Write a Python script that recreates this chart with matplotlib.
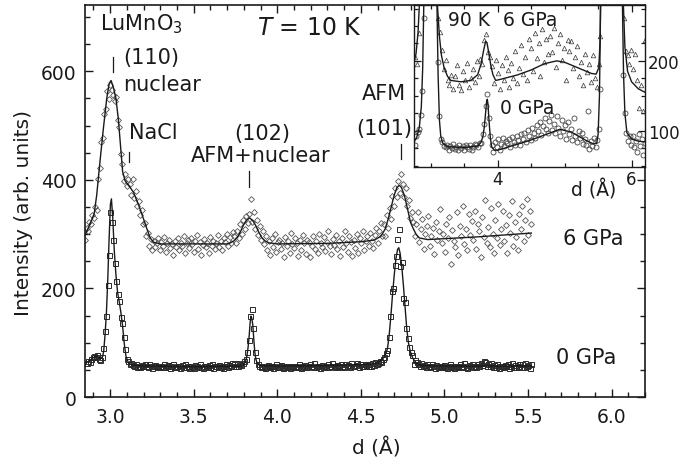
import numpy as np
import matplotlib
matplotlib.use("Agg")
import matplotlib.pyplot as plt
from matplotlib.ticker import MultipleLocator, FormatStrFormatter

plt.rcParams["font.family"] = ["DejaVu Sans"]
plt.rcParams["mathtext.fontset"] = "dejavusans"

# ---------------- main panel, T = 10 K ----------------
# 0 GPa intensities on an even d grid (2.86 - 5.52 A)
I_0gpa = [
    62, 66, 64, 70, 74, 76, 73, 77, 70, 69,
    74, 90, 121, 150, 206, 262, 340, 322, 290, 246,
    214, 189, 176, 148, 137, 110, 88, 70, 66, 61,
    62, 59, 57, 60, 56, 58, 55, 59, 57, 61,
    57, 55, 60, 58, 54, 57, 59, 56, 58, 55,
    58, 56, 60, 55, 57, 59, 54, 58, 61, 56,
    55, 58, 57, 53, 59, 56, 60, 55, 57, 54,
    58, 56, 54, 59, 57, 55, 60, 56, 53, 58,
    57, 55, 59, 56, 61, 54, 57, 58, 55, 59,
    56, 58, 54, 57, 60, 56, 59, 58, 62, 60,
    58, 62, 57, 60, 59, 63, 66, 70, 82, 105,
    150, 163, 128, 83, 68, 60, 57, 55, 58, 56,
    54, 57, 59, 55, 58, 53, 57, 60, 56, 55,
    57, 59, 54, 56, 58, 55, 57, 53, 58, 56,
    55, 58, 56, 61, 54, 57, 55, 59, 56, 58,
    60, 57, 56, 62, 55, 58, 57, 54, 59, 56,
    58, 56, 60, 55, 57, 63, 57, 55, 59, 57,
    56, 60, 58, 55, 61, 57, 59, 56, 62, 58,
    57, 59, 62, 56, 60, 58, 57, 61, 59, 58,
    60, 58, 62, 59, 64, 61, 63, 66, 64, 70,
    74, 81, 87, 111, 150, 196, 200, 243, 260, 291,
    309, 242, 248, 183, 175, 128, 109, 93, 82, 77,
    60, 68, 64, 61, 58, 62, 57, 59, 56, 60,
    58, 55, 60, 57, 54, 59, 56, 58, 55, 57,
    59, 56, 54, 58, 61, 55, 57, 53, 58, 56,
    57, 60, 55, 58, 63, 56, 54, 59, 57, 61,
    56, 58, 55, 60, 57, 62, 59, 66, 64, 58,
    61, 57, 63, 55, 59, 56, 60, 54, 58, 57,
    55, 59, 57, 60, 54, 58, 62, 56, 59, 55,
    58, 61, 56, 60, 55, 62, 57, 59, 54, 60,
]
d_0gpa = np.linspace(2.86, 5.52, len(I_0gpa))

# 6 GPa intensities on an even d grid (2.85 - 5.52 A)
I_6gpa = [
    290, 311, 305, 322, 318, 336, 329, 350, 345, 402,
    421, 470, 478, 522, 530, 563, 548, 575, 566, 557,
    545, 552, 511, 498, 448, 430, 398, 410, 388, 402,
    392, 372, 401, 366, 380, 352, 361, 335, 344, 318,
    320, 296, 303, 279, 291, 270, 288, 276, 284, 293,
    271, 286, 279, 295, 268, 283, 290, 274, 281, 262,
    288, 276, 293, 270, 284, 279, 297, 265, 283, 289,
    274, 292, 281, 268, 287, 299, 273, 285, 262, 280,
    291, 277, 284, 266, 295, 279, 288, 272, 283, 298,
    276, 288, 271, 292, 285, 300, 279, 295, 283, 304,
    296, 283, 305, 292, 318, 301, 326, 310, 334, 320,
    338, 364, 322, 340, 309, 326, 298, 315, 290, 306,
    281, 297, 270, 288, 262, 292, 276, 300, 268, 285,
    290, 272, 284, 258, 295, 279, 287, 266, 302, 281,
    275, 293, 284, 260, 289, 271, 298, 283, 264, 290,
    286, 257, 279, 296, 272, 288, 266, 301, 283, 276,
    294, 269, 285, 305, 278, 263, 291, 280, 298, 272,
    287, 260, 293, 276, 305, 283, 268, 297, 286, 259,
    290, 274, 301, 266, 292, 283, 306, 270, 288, 296,
    279, 302, 287, 275, 299, 311, 284, 305, 320, 296,
    318, 296, 335, 312, 349, 328, 371, 352, 385, 369,
    398, 375, 411, 392, 368, 385, 351, 362, 330, 341,
    322, 296, 318, 341, 285, 309, 327, 272, 301, 315,
    334, 278, 296, 311, 264, 322, 289, 305, 347, 283,
    300, 268, 318, 293, 331, 245, 308, 287, 276, 341,
    262, 315, 296, 352, 281, 309, 270, 337, 299, 325,
    289, 343, 272, 318, 306, 258, 331, 295, 362, 283,
    314, 276, 349, 301, 265, 326, 292, 356, 280, 310,
    343, 288, 317, 266, 335, 302, 361, 279, 322, 295,
    270, 338, 309, 352, 287, 326, 365, 298, 343, 318,
]
d_6gpa = np.linspace(2.85, 5.52, len(I_6gpa))

# fitted profiles
fit0_d = [2.85, 2.87, 2.89, 2.91, 2.925, 2.94, 2.955, 2.962, 2.97, 2.978,
          2.986, 2.994, 3.002, 3.008, 3.016, 3.025, 3.035, 3.045, 3.055, 3.065,
          3.075, 3.085, 3.095, 3.11, 3.13, 3.2, 3.5, 3.78, 3.80, 3.81,
          3.818, 3.825, 3.832, 3.838, 3.843, 3.848, 3.854, 3.86, 3.866, 3.872,
          3.88, 3.895, 4.0, 4.3, 4.55, 4.60, 4.63, 4.65, 4.66, 4.67,
          4.68, 4.69, 4.70, 4.71, 4.72, 4.727, 4.735, 4.745, 4.755, 4.765,
          4.775, 4.785, 4.795, 4.81, 4.83, 4.86, 5.0, 5.52]
fit0_I = [63, 65, 70, 75, 75, 71, 74, 85, 115, 155,
          215, 290, 355, 365, 330, 270, 225, 192, 175, 155,
          130, 98, 75, 63, 59, 57, 56, 57, 60, 65,
          75, 90, 112, 138, 149, 145, 132, 105, 82, 70,
          62, 58, 57, 58, 60, 63, 70, 80, 90, 115,
          150, 190, 225, 255, 272, 275, 265, 240, 205, 165,
          125, 100, 85, 72, 63, 58, 57, 57]

fit6_d = [2.85, 2.87, 2.89, 2.905, 2.92, 2.94, 2.96, 2.98, 2.995, 3.006,
          3.02, 3.035, 3.05, 3.06, 3.075, 3.09, 3.10, 3.12, 3.14, 3.16,
          3.18, 3.20, 3.22, 3.24, 3.26, 3.30, 3.70, 3.72, 3.743, 3.761,
          3.779, 3.797, 3.815, 3.835, 3.853, 3.871, 3.889, 3.907, 3.925, 3.95,
          4.0, 4.3, 4.5, 4.58, 4.62, 4.645, 4.663, 4.681, 4.699, 4.716,
          4.73, 4.743, 4.761, 4.779, 4.797, 4.814, 4.832, 4.85, 4.9, 5.2,
          5.52]
fit6_I = [297, 312, 326, 338, 372, 435, 495, 550, 578, 583,
          570, 550, 510, 472, 415, 398, 394, 386, 377, 362,
          346, 328, 310, 293, 285, 282, 282, 284, 288, 294,
          304, 316, 325, 330, 325, 316, 304, 294, 288, 284,
          282, 283, 286, 289, 296, 309, 327, 349, 371, 386,
          390, 386, 371, 347, 322, 310, 299, 293, 290, 295,
          302]

# ---------------- inset, T = 90 K ----------------
I_90k_0gpa = [
    80, 92, 98, 102, 122, 157, 262, 600, 1200, 2000,
    2500, 2200, 900, 480, 335, 198, 121, 88, 84, 78,
    76, 80, 73, 78, 75, 81, 74, 77, 72, 79,
    75, 78, 73, 80, 76, 74, 79, 72, 77, 81,
    80, 76, 83, 82, 95, 110, 135, 152, 118, 92,
    79, 70, 84, 76, 88, 72, 81, 90, 78, 85,
    82, 88, 76, 91, 84, 79, 93, 86, 80, 95,
    88, 97, 84, 101, 92, 87, 104, 96, 90, 108,
    99, 112, 94, 107, 118, 103, 97, 114, 122, 101,
    110, 96, 121, 104, 92, 115, 99, 108, 88, 112,
    95, 103, 87, 118, 93, 84, 100, 90, 97, 81,
    88, 79, 128, 74, 85, 78, 90, 77, 86, 102,
    160, 420, 900, 2000, 3000, 3000, 3000, 3000, 3000, 3000,
    3000, 2000, 1100, 520, 290, 180, 125, 97, 85, 92,
    80, 92, 76, 85, 70, 95, 78, 88, 65, 83,
]
d_90k_0gpa = np.linspace(2.76, 6.2, len(I_90k_0gpa))

I_90k_6gpa = [
    205, 196, 240, 318, 600, 1500, 2500, 3000, 3000, 3000,
    620, 352, 262, 241, 215, 188, 201, 172, 165, 180,
    160, 178, 194, 166, 158, 185, 172, 197, 163, 176,
    188, 170, 200, 179, 203, 196, 230, 238, 212, 206,
    192, 168, 201, 183, 160, 194, 172, 206, 187, 163,
    197, 176, 214, 168, 190, 223, 181, 205, 172, 231,
    218, 185, 240, 204, 226, 179, 245, 198, 232, 210,
    236, 212, 247, 191, 225, 238, 201, 219, 172, 230,
    214, 228, 190, 206, 221, 178, 199, 165, 210, 184,
    196, 170, 208, 176, 162, 195, 235, 700, 2500, 3000,
    3000, 3000, 3000, 3000, 3000, 3000, 2000, 380, 262, 214,
    208, 196, 215, 188, 210, 172, 132, 165, 128, 230,
]
d_90k_6gpa = np.linspace(2.76, 6.2, len(I_90k_6gpa))

fitL_d = [2.75, 2.79, 2.83, 2.86, 2.88, 2.90, 2.95, 3.0, 3.05, 3.09,
          3.11, 3.13, 3.15, 3.18, 3.25, 3.5, 3.7, 3.75, 3.78, 3.80,
          3.82, 3.835, 3.845, 3.855, 3.87, 3.89, 3.91, 3.95, 4.0, 4.48,
          4.93, 5.1, 5.3, 5.43, 5.48, 5.50, 5.52, 5.54, 5.6, 5.7,
          5.8, 5.86, 5.88, 5.9, 5.93, 6.0, 6.1, 6.2]
fitL_I = [84, 90, 105, 135, 190, 300, 1200, 2500, 1200, 300,
          180, 115, 92, 82, 77, 76, 78, 83, 92, 105,
          126, 142, 145, 138, 115, 90, 77, 72, 72, 86,
          102, 98, 87, 81, 82, 95, 150, 300, 1500, 3000,
          1500, 300, 180, 125, 97, 88, 85, 84]

fitU_d = [2.75, 2.78, 2.81, 2.84, 2.87, 2.93, 3.0, 3.05, 3.08, 3.10,
          3.13, 3.16, 3.20, 3.25, 3.30, 3.45, 3.60, 3.70, 3.75, 3.79,
          3.82, 3.84, 3.87, 3.90, 3.93, 3.97, 4.02, 4.3, 4.5, 4.7,
          4.88, 5.0, 5.2, 5.4, 5.47, 5.51, 5.53, 5.55, 5.6, 5.7,
          5.8, 5.85, 5.87, 5.9, 5.94, 6.0, 6.1, 6.2]
fitU_I = [198, 210, 240, 300, 450, 1500, 2500, 800, 330, 280,
          235, 208, 190, 178, 172, 170, 172, 180, 195, 215,
          228, 226, 210, 192, 180, 172, 173, 180, 187, 196,
          200, 198, 190, 182, 181, 190, 230, 400, 1500, 3000,
          1500, 400, 300, 220, 185, 170, 160, 155]

# ---------------- drawing ----------------
fig = plt.figure(figsize=(6.79, 4.64), dpi=100)
ax = fig.add_axes([0.1252, 0.1422, 0.8247, 0.8448])

ink = "#1a1a1a"
ax.plot(d_6gpa, I_6gpa, ls="none", marker="D", ms=3.0, mfc="none",
        mec="#555555", mew=0.6, zorder=2)
ax.plot(d_0gpa, I_0gpa, ls="none", marker="s", ms=3.6, mfc="none",
        mec="#2a2a2a", mew=0.7, zorder=2)
ax.plot(fit6_d, fit6_I, color=ink, lw=1.0, zorder=3)
ax.plot(fit0_d, fit0_I, color=ink, lw=1.0, zorder=3)

ax.set_xlim(2.85, 6.2)
ax.set_ylim(0, 722)
ax.xaxis.set_major_locator(MultipleLocator(0.5))
ax.xaxis.set_minor_locator(MultipleLocator(0.1))
ax.xaxis.set_major_formatter(FormatStrFormatter("%.1f"))
ax.yaxis.set_major_locator(MultipleLocator(200))
ax.yaxis.set_minor_locator(MultipleLocator(50))
ax.tick_params(which="both", direction="in", top=True, right=True,
               labelsize=13.5, width=1.0, colors=ink)
ax.tick_params(which="major", length=6)
ax.tick_params(which="minor", length=3.5)
ax.tick_params(axis="x", pad=7)
ax.tick_params(axis="y", pad=6)
for s in ax.spines.values():
    s.set_linewidth(1.2)
    s.set_color(ink)

ax.set_xlabel("d (Å)", fontsize=14.5, color=ink)
ax.set_ylabel("Intensity (arb. units)", fontsize=14.5, color=ink)
ax.xaxis.set_label_coords(0.521, -0.10)
ax.yaxis.set_label_coords(-0.093, 0.472)

fs = 15
ax.text(2.94, 678, r"LuMnO$_3$", fontsize=fs, color=ink, va="baseline")
ax.text(3.078, 615, "(110)", fontsize=fs, color=ink, va="baseline")
ax.text(3.078, 565, "nuclear", fontsize=fs, color=ink, va="baseline")
ax.text(3.114, 477, "NaCl", fontsize=fs, color=ink, va="baseline")
ax.text(3.913, 476, "(102)", fontsize=fs, color=ink, va="baseline", ha="center")
ax.text(3.898, 434, "AFM+nuclear", fontsize=fs, color=ink, va="baseline", ha="center")
ax.text(4.638, 549, "AFM", fontsize=fs, color=ink, va="baseline", ha="center")
ax.text(4.638, 485, "(101)", fontsize=fs, color=ink, va="baseline", ha="center")
ax.text(3.88, 669, r"$T$ = 10 K", fontsize=17, color=ink, va="baseline")
ax.text(5.707, 282, "6 GPa", fontsize=fs, color=ink, va="baseline")
ax.text(5.665, 62, "0 GPa", fontsize=fs, color=ink, va="baseline")

# peak markers
ax.plot([3.016, 3.016], [598, 626], color=ink, lw=0.9)
ax.plot([3.116, 3.116], [432, 452], color=ink, lw=0.9)
ax.plot([3.834, 3.834], [386, 417], color=ink, lw=0.9)
ax.plot([4.741, 4.741], [439, 466], color=ink, lw=0.9)

# inset
axi = fig.add_axes([0.6097, 0.638, 0.3402, 0.349])
axi.set_facecolor("white")
axi.plot(d_90k_6gpa, I_90k_6gpa, ls="none", marker="^", ms=3.3, mfc="none",
         mec="#444444", mew=0.55, zorder=2)
axi.plot(d_90k_0gpa, I_90k_0gpa, ls="none", marker="o", ms=3.6, mfc="none",
         mec="#444444", mew=0.6, zorder=2)
axi.plot(fitU_d, fitU_I, color=ink, lw=1.0, zorder=3)
axi.plot(fitL_d, fitL_I, color=ink, lw=1.0, zorder=3)
axi.set_xlim(2.75, 6.2)
axi.set_ylim(48, 280)
axi.xaxis.set_major_locator(MultipleLocator(2))
axi.xaxis.set_minor_locator(MultipleLocator(0.5))
axi.yaxis.set_major_locator(MultipleLocator(100))
axi.yaxis.set_minor_locator(MultipleLocator(25))
axi.tick_params(which="both", direction="in", top=True, bottom=True,
                left=True, right=True, labelleft=False, labelright=True,
                labelsize=12, width=0.9, colors=ink, pad=2)
axi.tick_params(which="major", length=5)
axi.tick_params(which="minor", length=3)
for s in axi.spines.values():
    s.set_linewidth(1.0)
    s.set_color(ink)
axi.text(3.257, 252, "90 K", fontsize=13.5, color=ink, va="baseline")
axi.text(4.078, 252, "6 GPa", fontsize=13.5, color=ink, va="baseline")
axi.text(4.034, 126, "0 GPa", fontsize=13.5, color=ink, va="baseline")
axi.text(5.429, 7, "d (Å)", fontsize=13.5, color=ink, va="baseline", ha="center")

fig.savefig("out.png", dpi=100)
